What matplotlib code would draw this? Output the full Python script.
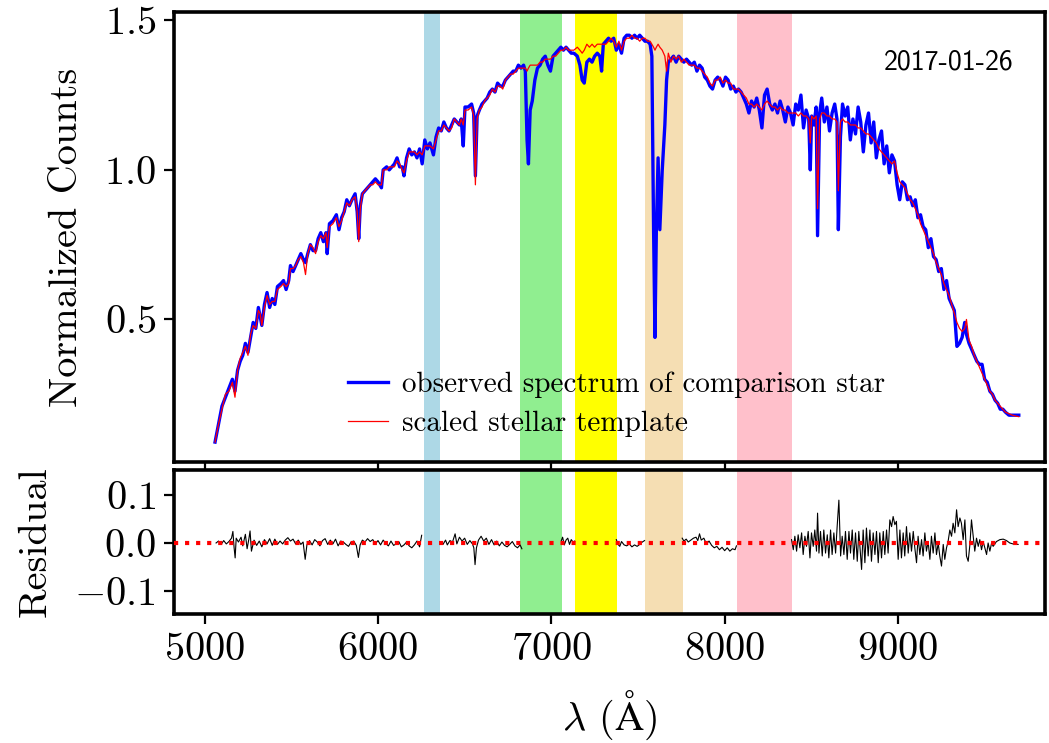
import matplotlib
matplotlib.use("Agg")
import matplotlib.pyplot as plt
import numpy as np

plt.rcParams["font.family"] = "serif"
plt.rcParams["font.serif"] = ["cmr10"]
plt.rcParams["mathtext.fontset"] = "cm"
plt.rcParams["axes.formatter.use_mathtext"] = True
plt.rcParams["axes.unicode_minus"] = True

# ----- spectrum of the comparison star and its fitted template ------------------------------------------------------ #

wave = [
    5060, 5080, 5100, 5120, 5140, 5160, 5175, 5190, 5205, 5220, 5235, 5250, 5265, 5280, 5295, 5310, 5320, 5330,
    5345, 5360, 5375, 5390, 5405, 5420, 5440, 5455, 5470, 5485, 5495, 5510, 5525, 5540, 5555, 5570, 5582, 5595,
    5610, 5625, 5640, 5655, 5670, 5685, 5700, 5707, 5720, 5740, 5760, 5775, 5790, 5805, 5820, 5835, 5850, 5868,
    5880, 5889, 5898, 5910, 5925, 5940, 5955, 5970, 5985, 6000, 6020, 6030, 6050, 6065, 6080, 6095, 6110, 6125,
    6140, 6150, 6165, 6180, 6195, 6210, 6225, 6240, 6255, 6270, 6285, 6300, 6320, 6335, 6350, 6365, 6380, 6395,
    6410, 6425, 6440, 6455, 6470, 6480, 6492, 6502, 6520, 6540, 6552, 6562, 6572, 6585, 6600, 6615, 6630, 6645,
    6660, 6675, 6690, 6705, 6720, 6735, 6750, 6765, 6780, 6795, 6810, 6825, 6840, 6850, 6860, 6868, 6878, 6890,
    6905, 6920, 6935, 6950, 6965, 6980, 6995, 7010, 7025, 7040, 7055, 7070, 7085, 7100, 7115, 7130, 7150, 7165,
    7178, 7190, 7205, 7220, 7235, 7250, 7265, 7280, 7290, 7300, 7315, 7330, 7345, 7360, 7375, 7390, 7405, 7420,
    7435, 7450, 7465, 7480, 7495, 7510, 7525, 7540, 7555, 7570, 7580, 7590, 7598, 7606, 7616, 7626, 7640, 7655,
    7665, 7675, 7690, 7705, 7720, 7735, 7750, 7765, 7780, 7795, 7810, 7825, 7840, 7855, 7870, 7885, 7900, 7915,
    7930, 7945, 7960, 7975, 7990, 8005, 8020, 8035, 8050, 8065, 8080, 8095, 8110, 8125, 8140, 8155, 8170, 8185,
    8200, 8215, 8230, 8245, 8260, 8275, 8290, 8305, 8320, 8335, 8350, 8365, 8380, 8395, 8410, 8425, 8440, 8455,
    8470, 8485, 8494, 8502, 8515, 8528, 8536, 8548, 8560, 8575, 8590, 8605, 8620, 8635, 8648, 8656, 8668, 8680,
    8695, 8710, 8725, 8740, 8755, 8770, 8785, 8800, 8815, 8830, 8845, 8860, 8875, 8890, 8905, 8920, 8935, 8950,
    8965, 8980, 8995, 9010, 9025, 9040, 9055, 9070, 9085, 9100, 9115, 9130, 9145, 9160, 9175, 9190, 9205, 9220,
    9235, 9250, 9265, 9280, 9295, 9310, 9325, 9340, 9355, 9370, 9385, 9395, 9410, 9425, 9440, 9455, 9470, 9485,
    9500, 9515, 9530, 9545, 9560, 9575, 9590, 9605, 9620, 9640, 9660, 9680, 9697,
]

observed = [
    0.09, 0.15, 0.21, 0.24, 0.27, 0.30, 0.26, 0.33, 0.36, 0.38, 0.42, 0.39, 0.44, 0.49, 0.47, 0.54, 0.51, 0.48,
    0.55, 0.59, 0.54, 0.57, 0.55, 0.61, 0.62, 0.63, 0.60, 0.63, 0.68, 0.66, 0.68, 0.70, 0.72, 0.70, 0.69, 0.72,
    0.75, 0.73, 0.73, 0.77, 0.79, 0.76, 0.79, 0.72, 0.82, 0.83, 0.85, 0.80, 0.84, 0.86, 0.90, 0.88, 0.90, 0.92,
    0.86, 0.77, 0.88, 0.92, 0.93, 0.94, 0.95, 0.96, 0.97, 0.96, 0.94, 1.00, 1.01, 1.00, 1.01, 1.02, 1.04, 1.01,
    1.01, 0.98, 1.04, 1.07, 1.05, 1.06, 1.04, 1.07, 1.02, 1.10, 1.07, 1.09, 1.05, 1.11, 1.14, 1.13, 1.16, 1.14,
    1.13, 1.15, 1.17, 1.16, 1.15, 1.17, 1.08, 1.21, 1.21, 1.22, 1.19, 0.98, 1.18, 1.20, 1.22, 1.23, 1.24, 1.26,
    1.27, 1.26, 1.29, 1.28, 1.28, 1.30, 1.31, 1.32, 1.33, 1.33, 1.35, 1.34, 1.35, 1.33, 1.10, 1.02, 1.20, 1.23,
    1.30, 1.34, 1.35, 1.37, 1.38, 1.35, 1.33, 1.38, 1.39, 1.40, 1.41, 1.40, 1.41, 1.40, 1.39, 1.39, 1.38, 1.35,
    1.30, 1.29, 1.36, 1.37, 1.36, 1.38, 1.39, 1.38, 1.33, 1.42, 1.43, 1.44, 1.43, 1.44, 1.40, 1.42, 1.39, 1.44,
    1.45, 1.45, 1.44, 1.45, 1.44, 1.45, 1.44, 1.43, 1.43, 1.42, 1.38, 0.80, 0.44, 0.80, 1.04, 0.80, 1.00, 1.15,
    1.30, 1.36, 1.37, 1.38, 1.36, 1.38, 1.37, 1.36, 1.37, 1.36, 1.35, 1.36, 1.33, 1.35, 1.34, 1.31, 1.30, 1.28,
    1.27, 1.30, 1.31, 1.30, 1.28, 1.31, 1.30, 1.27, 1.28, 1.26, 1.27, 1.26, 1.24, 1.22, 1.19, 1.23, 1.21, 1.24,
    1.20, 1.14, 1.25, 1.27, 1.22, 1.20, 1.22, 1.19, 1.23, 1.20, 1.16, 1.21, 1.19, 1.15, 1.22, 1.20, 1.25, 1.14,
    1.20, 1.17, 1.00, 1.18, 1.15, 1.21, 0.78, 1.19, 1.24, 1.16, 1.21, 1.13, 1.19, 1.22, 1.17, 0.80, 1.11, 1.22,
    1.18, 1.21, 1.10, 1.17, 1.12, 1.21, 1.16, 1.06, 1.15, 1.19, 1.09, 1.16, 1.04, 1.10, 1.13, 1.02, 1.08, 0.99,
    1.05, 1.03, 0.95, 0.90, 0.96, 0.95, 0.90, 0.91, 0.88, 0.90, 0.84, 0.85, 0.81, 0.80, 0.74, 0.77, 0.71, 0.70,
    0.66, 0.67, 0.60, 0.63, 0.57, 0.55, 0.53, 0.41, 0.42, 0.44, 0.49, 0.45, 0.42, 0.40, 0.38, 0.36, 0.35, 0.35,
    0.30, 0.29, 0.26, 0.25, 0.23, 0.22, 0.20, 0.20, 0.19, 0.18, 0.18, 0.18, 0.18,
]

template = [
    0.09, 0.15, 0.20, 0.25, 0.26, 0.29, 0.24, 0.33, 0.37, 0.39, 0.41, 0.38, 0.45, 0.48, 0.47, 0.53, 0.52, 0.48,
    0.54, 0.58, 0.55, 0.56, 0.56, 0.60, 0.61, 0.62, 0.61, 0.62, 0.67, 0.67, 0.68, 0.70, 0.71, 0.69, 0.65, 0.72,
    0.75, 0.74, 0.72, 0.76, 0.78, 0.77, 0.79, 0.74, 0.81, 0.82, 0.84, 0.81, 0.83, 0.86, 0.89, 0.88, 0.90, 0.91,
    0.86, 0.76, 0.87, 0.92, 0.93, 0.94, 0.95, 0.95, 0.96, 0.95, 0.95, 1.00, 1.00, 1.01, 1.01, 1.01, 1.03, 1.02,
    1.00, 0.99, 1.03, 1.06, 1.06, 1.06, 1.05, 1.06, 1.05, 1.08, 1.08, 1.08, 1.07, 1.10, 1.13, 1.13, 1.15, 1.14,
    1.13, 1.14, 1.17, 1.16, 1.15, 1.17, 1.15, 1.20, 1.20, 1.21, 1.18, 0.95, 1.17, 1.20, 1.21, 1.23, 1.24, 1.25,
    1.27, 1.26, 1.28, 1.28, 1.27, 1.30, 1.31, 1.32, 1.32, 1.33, 1.34, 1.34, 1.34, 1.34, 1.33, 1.34, 1.35, 1.35,
    1.35, 1.35, 1.36, 1.36, 1.37, 1.37, 1.37, 1.38, 1.38, 1.39, 1.40, 1.40, 1.41, 1.40, 1.40, 1.40, 1.41, 1.40,
    1.39, 1.40, 1.42, 1.41, 1.42, 1.41, 1.42, 1.42, 1.42, 1.42, 1.42, 1.43, 1.44, 1.43, 1.41, 1.43, 1.40, 1.43,
    1.44, 1.44, 1.45, 1.44, 1.44, 1.43, 1.44, 1.44, 1.43, 1.43, 1.42, 1.41, 1.40, 1.41, 1.42, 1.41, 1.40, 1.38,
    1.33, 1.39, 1.36, 1.38, 1.37, 1.38, 1.36, 1.37, 1.36, 1.35, 1.35, 1.35, 1.34, 1.34, 1.33, 1.32, 1.31, 1.29,
    1.28, 1.30, 1.30, 1.31, 1.29, 1.30, 1.29, 1.29, 1.27, 1.27, 1.27, 1.26, 1.25, 1.24, 1.22, 1.22, 1.21, 1.22,
    1.21, 1.20, 1.22, 1.23, 1.22, 1.21, 1.21, 1.20, 1.21, 1.20, 1.20, 1.19, 1.19, 1.19, 1.19, 1.18, 1.19, 1.18,
    1.18, 1.17, 1.09, 1.18, 1.17, 1.18, 0.87, 1.17, 1.19, 1.19, 1.18, 1.18, 1.17, 1.17, 1.16, 0.93, 1.16, 1.17,
    1.16, 1.16, 1.15, 1.15, 1.15, 1.14, 1.14, 1.13, 1.12, 1.12, 1.11, 1.10, 1.09, 1.07, 1.06, 1.05, 1.04, 1.03,
    1.02, 1.03, 0.99, 0.96, 0.95, 0.94, 0.92, 0.90, 0.89, 0.87, 0.85, 0.82, 0.80, 0.78, 0.76, 0.74, 0.72, 0.69,
    0.67, 0.65, 0.62, 0.60, 0.58, 0.55, 0.52, 0.49, 0.47, 0.46, 0.47, 0.50, 0.43, 0.41, 0.38, 0.36, 0.34, 0.32,
    0.30, 0.28, 0.26, 0.25, 0.23, 0.22, 0.21, 0.20, 0.19, 0.185, 0.18, 0.177, 0.175,
]

# residual of the fit, None where the wavelength falls inside a masked band
res_wave = [
    5066, 5080, 5095, 5110, 5125, 5140, 5155, 5163, 5170, 5176, 5182, 5195, 5210, 5220, 5235, 5245, 5255, 5262,
    5270, 5285, 5300, 5315, 5330, 5345, 5360, 5375, 5390, 5405, 5420, 5435, 5450, 5465, 5480, 5495, 5510, 5525,
    5540, 5555, 5568, 5580, 5590, 5605, 5620, 5635, 5650, 5665, 5680, 5695, 5710, 5725, 5740, 5755, 5770, 5785,
    5800, 5815, 5830, 5845, 5860, 5875, 5887, 5897, 5910, 5925, 5940, 5955, 5970, 5985, 6000, 6015, 6030, 6045,
    6060, 6075, 6090, 6105, 6120, 6135, 6150, 6165, 6180, 6195, 6210, 6225, 6240, 6252,
    6300,
    6360, 6375, 6390, 6400, 6415, 6430, 6445, 6455, 6470, 6485, 6500, 6515, 6530, 6545, 6553, 6560, 6568, 6580,
    6595, 6610, 6625, 6640, 6655, 6670, 6685, 6700, 6715, 6730, 6745, 6760, 6775, 6790, 6805, 6820, 6830,
    6950,
    7058, 7065, 7075, 7085, 7095, 7105, 7115, 7125, 7135,
    7250,
    7375, 7385, 7395, 7405, 7420, 7435, 7450, 7465, 7480, 7495, 7510, 7525, 7538,
    7650,
    7755, 7765, 7778, 7790, 7805, 7820, 7835, 7845, 7855, 7865, 7880, 7895, 7910, 7925, 7940, 7955, 7970, 7985,
    8000, 8015, 8030, 8045, 8060, 8068,
    8230,
    8386, 8396, 8405, 8415, 8424, 8434, 8444, 8453, 8463, 8472, 8482, 8492, 8501, 8511, 8520, 8530, 8536, 8544,
    8553, 8563, 8572, 8582, 8592, 8601, 8611, 8620, 8630, 8640, 8649, 8659, 8669, 8678, 8688, 8697, 8707, 8717,
    8726, 8736, 8745, 8755, 8765, 8774, 8790, 8799, 8809, 8818, 8828, 8838, 8847, 8857, 8867, 8876, 8886, 8895,
    8905, 8915, 8924, 8934, 8943, 8953, 8963, 8972, 8982, 8991, 9001, 9011, 9020, 9030, 9039, 9049, 9059, 9068,
    9078, 9088, 9097, 9107, 9116, 9126, 9136, 9145, 9155, 9164, 9174, 9184, 9193, 9203, 9213, 9222, 9232, 9241,
    9251, 9261, 9270, 9280, 9289, 9299, 9309, 9318, 9328, 9338, 9347, 9357, 9366, 9376, 9386, 9395, 9405, 9415,
    9424, 9434, 9443, 9453, 9463, 9472, 9482, 9491, 9501, 9511, 9520, 9530, 9540, 9549, 9568, 9588, 9607, 9626,
    9645, 9664, 9693,
]

residual = [
    0.000, 0.004, -0.003, 0.005, -0.002, 0.003, 0.010, 0.024, -0.010, -0.031, 0.010, 0.002, 0.012, -0.006, 0.018,
    -0.012, 0.008, 0.025, -0.017, 0.006, -0.005, 0.004, -0.008, 0.007, -0.002, 0.009, -0.005, 0.008, -0.003, 0.004,
    -0.002, 0.006, 0.011, 0.004, 0.008, -0.002, 0.006, -0.003, 0.002, -0.034, -0.004, 0.005, -0.004, 0.007, 0.002,
    -0.006, 0.005, 0.009, -0.003, 0.006, -0.002, 0.008, -0.006, 0.004, 0.002, -0.003, -0.007, 0.002, 0.004, -0.005,
    -0.030, -0.004, 0.006, 0.002, 0.009, 0.003, 0.007, -0.002, 0.005, -0.004, 0.006, -0.001, -0.006, 0.004, -0.005,
    -0.002, 0.003, -0.008, -0.004, 0.002, -0.006, -0.010, -0.004, 0.004, -0.008, 0.016,
    None,
    0.002, -0.003, 0.006, -0.004, 0.005, 0.002, 0.019, -0.002, 0.012, 0.004, 0.010, -0.003, 0.005, -0.002, -0.010,
    -0.045, -0.010, 0.006, 0.014, 0.004, 0.010, -0.003, 0.007, -0.004, 0.004, -0.006, 0.002, -0.005, -0.008, -0.003,
    0.003, -0.006, -0.010, -0.004, -0.012,
    None,
    0.005, 0.012, -0.004, 0.006, 0.010, -0.003, 0.007, 0.002, 0.004,
    None,
    0.007, -0.003, -0.007, 0.003, -0.004, -0.006, -0.002, -0.008, -0.004, -0.007, -0.003, 0.002, 0.005,
    None,
    0.010, 0.004, 0.008, 0.002, 0.006, 0.010, 0.012, 0.005, 0.019, 0.006, 0.010, -0.002, 0.004, -0.005, -0.010,
    -0.007, -0.014, -0.009, -0.016, -0.010, -0.017, -0.012, -0.014, -0.006,
    None,
    0.007, -0.014, 0.014, -0.017, 0.017, -0.010, 0.021, -0.024, 0.014, -0.007, 0.024, -0.031, 0.021, -0.007, 0.027,
    -0.017, 0.062, -0.021, 0.024, -0.027, 0.027, -0.021, 0.017, -0.031, 0.027, -0.024, 0.021, -0.021, 0.034, 0.089,
    -0.027, 0.014, -0.024, 0.024, -0.034, 0.024, -0.021, 0.027, -0.034, 0.021, -0.038, 0.024, -0.055, 0.027, -0.041,
    0.031, -0.027, 0.027, -0.038, 0.021, -0.024, 0.024, -0.041, 0.021, -0.031, 0.024, -0.024, 0.027, -0.021, 0.048,
    0.034, 0.055, 0.038, 0.045, -0.034, 0.027, -0.031, 0.021, -0.027, 0.034, -0.021, 0.021, -0.017, 0.024, -0.010,
    -0.041, 0.014, -0.024, 0.007, -0.027, 0.021, -0.017, 0.003, -0.034, 0.014, -0.021, 0.021, -0.024, 0.000, -0.027,
    -0.048, -0.003, -0.034, -0.010, 0.003, 0.027, 0.014, 0.041, 0.021, 0.069, 0.034, 0.052, 0.041, 0.007, 0.048,
    -0.027, -0.038, -0.003, 0.048, 0.014, -0.017, 0.010, -0.007, 0.007, -0.014, 0.003, -0.010, -0.024, 0.000, -0.017,
    0.000, -0.007, 0.003, 0.007, 0.008, 0.005, 0.000, -0.002, -0.003,
]

# wavelength windows (Angstrom) shaded on both panels
bands = [(6265, 6357), (6821, 7059), (7135, 7377), (7539, 7758), (8069, 8387)]
band_colors = ["lightblue", "lightgreen", "yellow", "wheat", "pink"]

obs_date = "2017-01-26"


# ----- figure ------------------------------------------------------------------------------------------------------- #

def style_axis(ax):
    for spine in ax.spines.values():
        spine.set_linewidth(2.6)
    ax.tick_params(direction="out", length=7, width=1.6, labelsize=29, pad=6)


fig = plt.figure(figsize=(10.49, 7.43), dpi=100)
ax_top = fig.add_axes([0.166, 0.378, 0.830, 0.606])
ax_res = fig.add_axes([0.166, 0.174, 0.830, 0.193], sharex=ax_top)

for (lo, hi), c in zip(bands, band_colors):
    ax_top.axvspan(lo, hi, color=c, lw=0, zorder=0)
    ax_res.axvspan(lo, hi, color=c, lw=0, zorder=0)

ax_top.plot(wave, observed, color="blue", lw=2.4, label="observed spectrum of comparison star", zorder=2)
ax_top.plot(wave, template, color="red", lw=0.9, label="scaled stellar template", zorder=3)

ax_top.set_xlim(4824, 9847)
ax_top.set_ylim(0.023, 1.528)
ax_top.set_yticks([0.5, 1.0, 1.5])
ax_top.set_ylabel("Normalized Counts", fontsize=29, labelpad=14)
ax_top.tick_params(axis="x", labelbottom=False)
ax_top.text(0.89, 0.889, obs_date, transform=ax_top.transAxes, ha="center", va="center",
            fontsize=20, family="cmss10")
ax_top.legend(loc="lower left", bbox_to_anchor=(0.2, 0.055), frameon=False, fontsize=21,
              handlelength=1.35, handletextpad=0.5, labelspacing=0.45, borderpad=0, borderaxespad=0)
style_axis(ax_top)

res = np.array(residual, dtype=float)
ax_res.plot(res_wave, res, color="black", lw=0.8, zorder=2)
ax_res.axhline(0, color="red", ls=":", lw=3, zorder=3)
ax_res.set_ylim(-0.147, 0.151)
ax_res.set_yticks([-0.1, 0.0, 0.1])
ax_res.set_xticks([5000, 6000, 7000, 8000, 9000])
ax_res.set_ylabel("Residual", fontsize=29, labelpad=15)
ax_res.set_xlabel(r"$\lambda$ ($\mathrm{\AA}$)", fontsize=29, labelpad=15)
style_axis(ax_res)

fig.savefig("out.png", dpi=100)
